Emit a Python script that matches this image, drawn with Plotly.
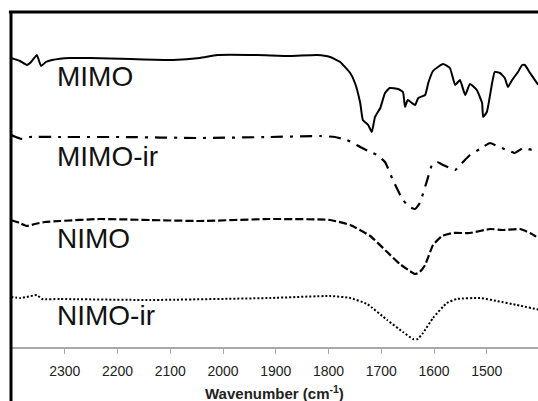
import plotly.graph_objects as go

# ---- data (wavenumber in cm-1, offset transmittance in arbitrary units) ----
mimo_wn = [2402, 2385, 2372, 2364, 2358, 2353, 2345, 2336, 2324, 2290, 2252, 2176, 2095, 2044,
           2011, 1936, 1873, 1822, 1797, 1778, 1759, 1750, 1740, 1735, 1725, 1718, 1712, 1702,
           1693, 1684, 1668, 1659, 1655, 1650, 1642, 1636, 1630, 1617, 1611, 1602, 1583, 1570,
           1560, 1551, 1541, 1532, 1519, 1509, 1507, 1500, 1490, 1485, 1475, 1466, 1460, 1452,
           1441, 1433, 1428, 1418, 1405, 1399]
mimo_t = [289, 286, 282, 285, 289, 292, 281, 285, 287, 289, 289, 288, 287, 289,
          292, 292, 291, 292, 290, 285, 274, 264, 244, 227, 222, 215, 230, 239,
          254, 259, 258, 255, 240, 247, 244, 242, 249, 252, 264, 276, 283, 279,
          262, 267, 252, 263, 257, 244, 230, 235, 264, 275, 274, 269, 260, 267,
          275, 282, 282, 274, 264, 261]

mimo_ir_wn = [2402, 2393, 2381, 2366, 2309, 2195, 2044, 1911, 1816, 1788, 1765, 1740, 1721, 1708,
              1693, 1678, 1659, 1646, 1636, 1627, 1613, 1604, 1594, 1583, 1570, 1560, 1547, 1532,
              1513, 1494, 1481, 1462, 1447, 1431, 1414, 1399]
mimo_ir_t = [212, 210, 208, 210, 210, 210, 209, 210, 211, 210, 207, 200, 195, 192,
             185, 167, 147, 140, 138, 144, 167, 182, 185, 182, 179, 177, 184, 192,
             198, 204, 201, 197, 194, 199, 197, 196]

nimo_wn = [2402, 2385, 2372, 2357, 2338, 2309, 2233, 2138, 2044, 1911, 1797, 1759, 1721, 1689,
           1665, 1646, 1636, 1627, 1617, 1602, 1585, 1564, 1532, 1494, 1469, 1437, 1418, 1399]
nimo_t = [127, 124, 121, 123, 125, 126, 128, 127, 126, 128, 127, 122, 111, 95,
          83, 76, 73, 75, 82, 102, 111, 114, 114, 118, 117, 118, 114, 108]

nimo_ir_wn = [2402, 2385, 2372, 2353, 2343, 2309, 2138, 1911, 1797, 1759, 1727, 1689, 1659, 1640,
              1631, 1621, 1602, 1576, 1557, 1513, 1481, 1443, 1399]
nimo_ir_t = [50, 49, 50, 52, 48, 48, 47, 49, 51, 49, 43, 27, 15, 8,
             8, 14, 29, 44, 48, 49, 46, 42, 37]

series_names = ["MIMO", "MIMO-ir", "NIMO", "NIMO-ir"]
tick_vals = [2300, 2200, 2100, 2000, 1900, 1800, 1700, 1600, 1500]

fig = go.Figure()
styles = [
    dict(color="black", width=2, dash="solid"),
    dict(color="black", width=2.2, dash="12px,7px,3px,7px"),
    dict(color="black", width=2.2, dash="8px,3px"),
    dict(color="black", width=2, dash="2px,2px"),
]
data = [(mimo_wn, mimo_t), (mimo_ir_wn, mimo_ir_t), (nimo_wn, nimo_t), (nimo_ir_wn, nimo_ir_t)]
for name, (x, y), st in zip(series_names, data, styles):
    fig.add_trace(go.Scatter(x=x, y=y, mode="lines", name=name, line=st,
                             line_shape="spline", line_smoothing=0.4, showlegend=False))

label_y = [0.804, 0.5655, 0.324, 0.0952]
for name, yy in zip(series_names, label_y):
    fig.add_annotation(text=name, xref="paper", yref="paper", x=0.0835, y=yy,
                       xanchor="left", yanchor="middle", showarrow=False,
                       font=dict(family="Liberation Sans, Arial", size=28, color="#111"))

fig.add_annotation(text="<b>Wavenumber (cm<sup>-1</sup>)</b>", xref="paper", yref="paper",
                   x=0.5, y=-0.134, xanchor="center", yanchor="middle", showarrow=False,
                   font=dict(family="Liberation Sans, Arial", size=15, color="#222"))

# frame: left black border (extends below the axis) and top black border
fig.add_shape(type="line", xref="paper", yref="paper", x0=0, x1=0, y0=-0.25, y1=0.997,
              line=dict(color="black", width=3))
fig.add_shape(type="line", xref="paper", yref="paper", x0=-0.004, x1=1.0, y0=0.997, y1=0.997,
              line=dict(color="black", width=3))

fig.update_layout(
    width=538, height=401,
    margin=dict(l=11, r=0, t=11, b=54),
    paper_bgcolor="white", plot_bgcolor="white",
    xaxis=dict(range=[2402, 1403], tickvals=tick_vals, ticktext=[str(t) for t in tick_vals],
               showgrid=False, zeroline=False, showline=True, linecolor="#a8a8a8", linewidth=1.5,
               ticks="outside", ticklen=5, tickwidth=1.2, tickcolor="#a8a8a8",
               ticklabelstandoff=5,
               tickfont=dict(family="Liberation Sans, Arial", size=14, color="#222")),
    yaxis=dict(range=[0, 336], showgrid=False, zeroline=False, showline=False,
               showticklabels=False, ticks=""),
)

fig.write_html("out.html", config={"displayModeBar": False},
               post_script="document.body.style.margin='0';document.body.style.overflow='hidden';")
